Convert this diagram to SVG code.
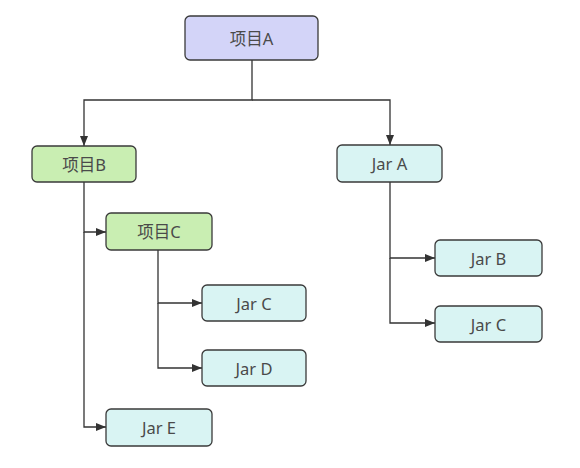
<svg xmlns="http://www.w3.org/2000/svg" width="580" height="468" viewBox="0 0 580 468">
<style>
.n rect{stroke:#3a3a3a;stroke-width:1.3}
.p rect{fill:#d3d4f8}
.g rect{fill:#c9eeb2}
.j rect{fill:#d9f4f3}
.n text{font-family:"Noto Sans","Noto Sans CJK SC",sans-serif;font-size:16.5px;fill:#4a4a4a;text-anchor:middle;dominant-baseline:central}
.c path{fill:none;stroke:#333;stroke-width:1.3}
</style>
<defs>
<marker id="ah" markerWidth="10" markerHeight="8" refX="10" refY="4" orient="auto" markerUnits="userSpaceOnUse">
<path d="M0,0 L10,4 L0,8 Z" fill="#333"/>
</marker>
</defs>
<rect width="580" height="468" fill="#fff"/>
<g class="c">
<path d="M252,60 V100 H84 V146" marker-end="url(#ah)"/>
<path d="M252,100 H390 V145" marker-end="url(#ah)"/>
<path d="M84,182 V232 H106" marker-end="url(#ah)"/>
<path d="M84,232 V427 H106" marker-end="url(#ah)"/>
<path d="M158,250 V303 H202" marker-end="url(#ah)"/>
<path d="M158,303 V368 H202" marker-end="url(#ah)"/>
<path d="M390,182 V258 H435" marker-end="url(#ah)"/>
<path d="M390,258 V323 H435" marker-end="url(#ah)"/>
</g>
<g id="pA" class="n p"><rect x="185" y="16" width="133" height="44" rx="5"/><text x="251.5" y="38">项目A</text></g>
<g id="pB" class="n g"><rect x="32" y="146" width="104" height="36" rx="5"/><text x="84" y="164">项目B</text></g>
<g id="pC" class="n g"><rect x="106" y="213" width="106" height="37" rx="5"/><text x="159" y="231.5">项目C</text></g>
<g id="jA" class="n j"><rect x="337" y="145" width="105" height="37" rx="5"/><text x="389.5" y="163.5">Jar A</text></g>
<g id="jB" class="n j"><rect x="435" y="240" width="107" height="36" rx="5"/><text x="488.5" y="258">Jar B</text></g>
<g id="jC2" class="n j"><rect x="435" y="306" width="107" height="36" rx="5"/><text x="488.5" y="324">Jar C</text></g>
<g id="jC" class="n j"><rect x="202" y="285" width="104" height="36" rx="5"/><text x="254" y="303">Jar C</text></g>
<g id="jD" class="n j"><rect x="202" y="350" width="104" height="36" rx="5"/><text x="254" y="368">Jar D</text></g>
<g id="jE" class="n j"><rect x="106" y="409" width="106" height="37" rx="5"/><text x="159" y="427.5">Jar E</text></g>
</svg>
